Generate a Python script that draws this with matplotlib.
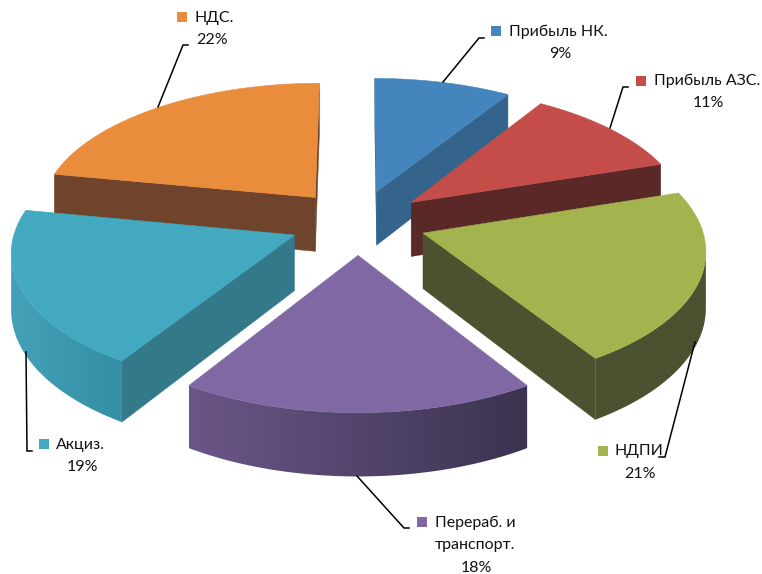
import numpy as np
import matplotlib
matplotlib.use("Agg")
import matplotlib.pyplot as plt
from matplotlib.colors import LinearSegmentedColormap
from matplotlib.patches import Polygon, Rectangle

plt.rcParams['font.family'] = ['Lato', 'Noto Sans', 'DejaVu Sans']

# data
names = ["Прибыль НК.", "Прибыль АЗС.", "НДПИ", "Перераб. и\nтранспорт.", "Акциз.", "НДС."]
values = [9, 11, 21, 18, 19, 22]

# colours of each slice
top_colors = ["#4485BD", "#C44D4A", "#A3B34E", "#8068A4", "#42A9C1", "#E98D3C"]
cut_colors = ["#34638C", "#5A2927", "#4A5230", "#3B3350", "#347989", "#6F432C"]
rim_left = ["#34638C", "#5A2927", "#4A5230", "#6A5687", "#44A1B7", "#6F432C"]
rim_right = ["#34638C", "#5A2927", "#4A5230", "#3B3350", "#348FA6", "#6F432C"]

# pie geometry, in pixels of the picture
CX, CY = 358, 222
R = 276
EXPLODE = 68
TILT = 0.478
PERSP = 2500
DEPTH = 55
STRETCH = 1.006


def project(x, y, z=0):
    s = 1 / (1 - y / PERSP)
    return CX + STRETCH * x * s, CY + (TILT * y + z) * s


def area(pts):
    x, y = zip(*pts)
    x, y = np.array(x), np.array(y)
    return 0.5 * np.sum(x * np.roll(y, -1) - np.roll(x, -1) * y)


fig = plt.figure(figsize=(7.62, 5.74), dpi=100)
ax = fig.add_axes([0, 0, 1, 1])

edges = np.concatenate([[0], np.cumsum(values)]) * 360 / sum(values)
order = [5, 0, 1, 4, 2, 3]  # back to front
z = 1

for i in order:
    t0, t1 = np.radians(edges[i]), np.radians(edges[i + 1])
    tm = (t0 + t1) / 2
    ox, oy = EXPLODE * np.sin(tm), -EXPLODE * np.cos(tm)
    th = np.linspace(t0, t1, 120)
    rx = ox + R * np.sin(th)
    ry = oy - R * np.cos(th)

    # the two cut faces
    for x, y, sign in [(rx[0], ry[0], 1), (rx[-1], ry[-1], -1)]:
        pts = [project(ox, oy), project(x, y), project(x, y, DEPTH), project(ox, oy, DEPTH)]
        if area(pts) * sign < 0:
            ax.add_patch(Polygon(pts, fc=cut_colors[i], ec=cut_colors[i], lw=0.3, zorder=z))
            z += 1

    # outer rim: only the part that faces us, shaded left to right
    upper, lower = [], []
    for k in range(len(th) - 1):
        pts = [project(rx[k], ry[k]), project(rx[k + 1], ry[k + 1]),
               project(rx[k + 1], ry[k + 1], DEPTH), project(rx[k], ry[k], DEPTH)]
        if area(pts) < 0:
            upper += [pts[0], pts[1]]
            lower += [pts[3], pts[2]]
    if upper:
        rim = Polygon(upper + lower[::-1], fc=rim_left[i], ec="none", transform=ax.transData)
        xs = [p[0] for p in upper]
        cmap = LinearSegmentedColormap.from_list("rim", [rim_left[i], rim_right[i]])
        im = ax.imshow(np.linspace(0, 1, 256)[None, :], cmap=cmap, aspect="auto",
                       extent=(min(xs), max(xs), 574, 0), zorder=z, interpolation="bilinear")
        im.set_clip_path(rim)
        z += 1

    top = [project(ox, oy)] + [project(a, b) for a, b in zip(rx, ry)]
    ax.add_patch(Polygon(top, fc=top_colors[i], ec=top_colors[i], lw=0.4, zorder=z))
    z += 1

# labels: key square corner, text left, first line y, percent centre, percent y
keys = [(491, 26), (636, 76), (598, 446), (417, 517), (39, 439), (177, 12)]
text_left = [509, 654, 615, 435, 56, 194]
text_y = [32, 81, 451, 523, 445, 18]
pct_x = [560, 708, 640, 476, 82, 212]
pct_y = [54, 103, 474, 568, 467, 40]
leaders = [
    [(443, 82), (479, 38), (484, 38)],
    [(610, 128), (623, 87), (628, 87)],
    [(695, 342), (665, 457), (659, 457)],
    [(357, 476), (404, 528), (409, 528)],
    [(26, 352), (27, 451), (32, 451)],
    [(158, 107), (183, 45), (188, 45)],
]

FS = 11.5
for i, name in enumerate(names):
    ax.add_patch(Rectangle(keys[i], 10, 10, fc=top_colors[i], ec="none", zorder=z))
    lines = name.split("\n")
    ax.text(text_left[i], text_y[i], lines[0], fontsize=FS, va="center", ha="left", color="#111111", zorder=z)
    if len(lines) > 1:
        ax.text(pct_x[i] - 1, text_y[i] + 22, lines[1], fontsize=FS, va="center", ha="center", color="#111111", zorder=z)
    ax.text(pct_x[i], pct_y[i], "%d%%" % values[i], fontsize=FS, va="center", ha="center", color="#111111", zorder=z)
    lx, ly = zip(*leaders[i])
    ax.plot(lx, ly, color="black", lw=1.1, solid_joinstyle="miter", zorder=z)

ax.set_xlim(0, 762)
ax.set_ylim(574, 0)
ax.axis("off")

fig.savefig("out.png", dpi=100, facecolor="white")
